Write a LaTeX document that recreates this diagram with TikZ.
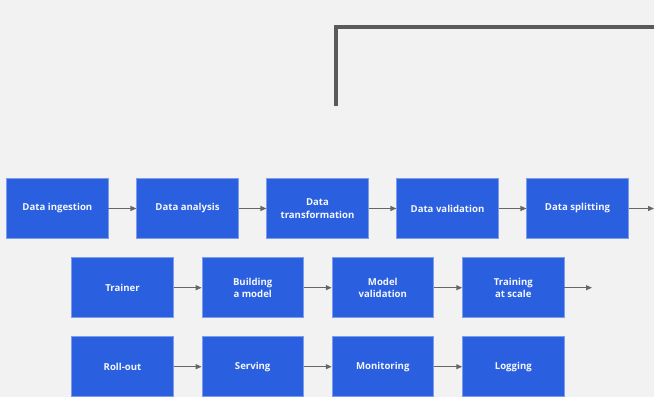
\documentclass[tikz,border=0pt]{standalone}
\usepackage{fontspec}
\setmainfont{Open Sans}
\usetikzlibrary{arrows.meta}
\definecolor{bg}{HTML}{F2F2F3}
\definecolor{boxblue}{HTML}{2A60DF}
\definecolor{boxedge}{HTML}{7C9DEB}
\definecolor{arrgray}{HTML}{666666}
\definecolor{linegray}{HTML}{5A5A5A}
\definecolor{txt}{HTML}{F4F6FC}
\begin{document}
\begin{tikzpicture}[x=1pt,y=-1pt,
  stage/.style={draw=boxedge, line width=0.6pt, fill=boxblue, text=txt,
    minimum width=101.5pt, minimum height=60pt, inner sep=0pt, align=center,
    font=\fontsize{9.6}{12.3}\selectfont\bfseries},
  flow/.style={draw=arrgray, line width=1.1pt, -{Triangle[length=6pt,width=5pt]}}]
\fill[bg] (0,0) rectangle (654,397);
\useasboundingbox (0,0) rectangle (654,397);
% top line
\coordinate (t1) at (335.8,106);
\coordinate (t2) at (335.8,26.5);
\coordinate (t3) at (654,26.5);
\draw[linegray, line width=4pt] (t1) -- (t2) -- (t3);
% row 1
\node[stage] (a1) at (57.4,208.5) {Data ingestion};
\node[stage] (a2) at (187.5,208.5) {Data analysis};
\node[stage] (a3) at (317.5,208.5) {Data\\transformation};
\node[stage] (a4) at (447.5,208.5) {Data validation};
\node[stage] (a5) at (577.5,208.5) {Data splitting};
\coordinate (a6) at (654,208.5);
% row 2
\node[stage] (b1) at (122.5,287.7) {Trainer};
\node[stage] (b2) at (252.7,287.7) {Building\\a model};
\node[stage] (b3) at (382.8,287.7) {Model\\validation};
\node[stage] (b4) at (513.3,287.7) {Training\\at scale};
\coordinate (b5) at (592,287.7);
% row 3
\node[stage] (c1) at (122.5,366.7) {Roll-out};
\node[stage] (c2) at (252.7,366.7) {Serving};
\node[stage] (c3) at (382.8,366.7) {Monitoring};
\node[stage] (c4) at (513.3,366.7) {Logging};
% arrows
\draw[flow] (a1) -- (a2);
\draw[flow] (a2) -- (a3);
\draw[flow] (a3) -- (a4);
\draw[flow] (a4) -- (a5);
\draw[flow] (a5) -- (a6);
\draw[flow] (b1) -- (b2);
\draw[flow] (b2) -- (b3);
\draw[flow] (b3) -- (b4);
\draw[flow] (b4) -- (b5);
\draw[flow] (c1) -- (c2);
\draw[flow] (c2) -- (c3);
\draw[flow] (c3) -- (c4);
\end{tikzpicture}
\end{document}
